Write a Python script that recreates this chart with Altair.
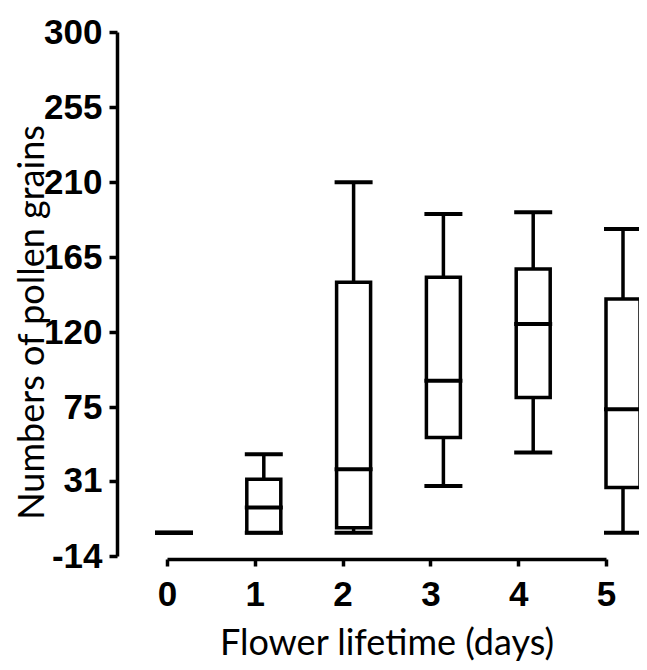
import altair as alt
import pandas as pd

# Values
days = [0, 1, 2, 3, 4, 5]
mins = [0, 0, 0, 28, 48, 0]
q1s = [0, 0, 3, 57, 81, 27]
medians = [0, 15, 38, 91, 125, 74]
q3s = [0, 32, 150, 153, 158, 140]
maxs = [0, 47, 210, 191, 192, 182]
y_ticks = [-14, 31, 75, 120, 165, 210, 255, 300]

df = pd.DataFrame({"day": days, "lo": mins, "q1": q1s, "med": medians, "q3": q3s, "hi": maxs})

LABEL_FONT = "Liberation Sans Narrow, Liberation Sans, Arial"
TITLE_FONT = "Lato"
SW = 3.5

yscale = alt.Scale(domain=[-14, 300], nice=False, zero=False)
yaxis = alt.Axis(
    values=y_ticks, title="Numbers of pollen grains", offset=50, tickSize=8,
    labelPadding=7, titleX=-66, titleY=290, grid=False, labelExpr="'' + datum.value",
)

xbox = alt.Scale(domain=[0, 5], range=[2, 461])

base = alt.Chart(df)
xenc = alt.X("day:Q", scale=xbox, axis=None)

whisk = base.mark_rule(color="black", strokeWidth=SW).encode(
    x=xenc, y=alt.Y("lo:Q", scale=yscale, axis=yaxis), y2="hi:Q",
)
box = base.mark_bar(size=34, fill="white", stroke="black", strokeWidth=SW).encode(
    x=xenc, y=alt.Y("q1:Q", scale=yscale, axis=yaxis), y2="q3:Q",
)
tick_kw = dict(orient="horizontal", size=38, thickness=4, color="black", opacity=1)
med = base.mark_tick(**tick_kw).encode(x=xenc, y=alt.Y("med:Q", scale=yscale, axis=yaxis))
cap_hi = base.mark_tick(**tick_kw).encode(x=xenc, y=alt.Y("hi:Q", scale=yscale, axis=yaxis))
cap_lo = base.mark_tick(**tick_kw).encode(x=xenc, y=alt.Y("lo:Q", scale=yscale, axis=yaxis))

boxes = alt.layer(whisk, box, med, cap_hi, cap_lo)

axis_layer = base.mark_point(opacity=0).encode(
    x=alt.X("day:Q", scale=alt.Scale(domain=[0, 5], nice=False, zero=False),
            axis=alt.Axis(values=days, format="d", title="Flower lifetime (days)", orient="bottom",
                          offset=3, tickSize=7, labelPadding=11, titleY=67, grid=False)),
    y=alt.Y("lo:Q", scale=yscale, axis=yaxis),
)

chart = alt.layer(boxes, axis_layer).resolve_scale(x="independent").properties(
    width=439, height=524,
    autosize=alt.AutoSizeParams(type="none"),
    padding={"left": 159, "top": 24, "right": 33, "bottom": 106},
).configure_view(stroke=None).configure_axis(
    domainColor="black", domainWidth=SW, tickColor="black", tickWidth=SW,
    labelFont=LABEL_FONT, labelFontSize=35, labelFontWeight="bold", labelColor="black",
    titleFont=TITLE_FONT, titleFontSize=36, titleFontWeight="normal", titleColor="black",
    labelFlush=False, labelOverlap=False,
)

chart.save("out.html", embed_options={"renderer": "svg", "actions": False})
